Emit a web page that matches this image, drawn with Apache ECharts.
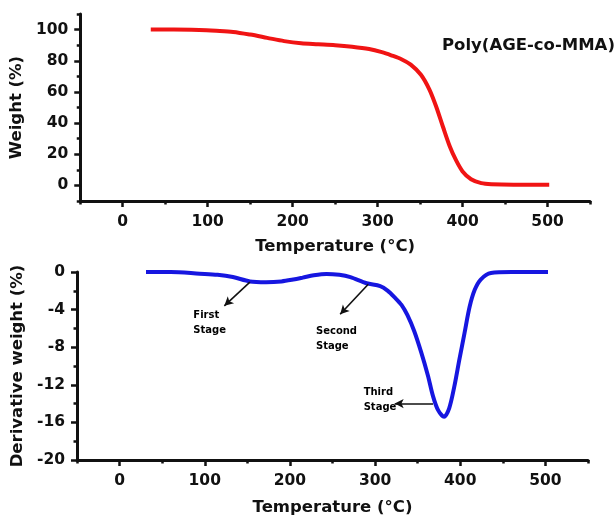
<!DOCTYPE html>
<html>
<head>
<meta charset="utf-8">
<title>Poly(AGE-co-MMA) TGA / DTG</title>
<script src="https://cdn.jsdelivr.net/npm/echarts@6/dist/echarts.min.js"></script>
<style>
  html, body { margin: 0; padding: 0; background: #fff; }
  #chart { width: 616px; height: 517px; }
</style>
</head>
<body>
<div id="chart"></div>
<script>
// Thermogravimetric curve (weight %) vs temperature (°C)
var tgaTemp   = [33, 60, 90, 110, 130, 150, 170, 190, 210, 230, 250, 270, 290, 305, 316, 328, 339, 351, 361, 369, 377, 385, 392, 400, 410, 422, 434, 460, 502];
var tgaWeight = [100, 100, 99.7, 99.2, 98.5, 96.8, 94.7, 92.6, 91.2, 90.6, 90, 89, 87.5, 85.5, 83.5, 81, 77.5, 71, 61.5, 50.5, 37.5, 25, 16.5, 9, 4, 1.5, 0.8, 0.5, 0.5];

// Derivative weight curve (%) vs temperature (°C)
var dtgTemp  = [31, 60, 94, 115, 133, 153, 172, 190, 204, 215, 228, 243, 258, 271, 290, 306, 315, 323, 331, 338, 346, 354, 362, 368, 374, 381, 387, 393, 399, 405, 411, 417, 424, 436, 460, 503];
var dtgValue = [0, 0, -0.18, -0.3, -0.54, -1.0, -1.08, -1.0, -0.8, -0.6, -0.35, -0.2, -0.3, -0.55, -1.2, -1.5, -2.0, -2.7, -3.5, -4.6, -6.3, -8.5, -11.0, -13.2, -14.7, -15.4, -14.5, -12.2, -9.3, -6.5, -3.7, -1.9, -0.8, -0.1, 0, 0];

// Tick values
var tempMajor   = [0, 100, 200, 300, 400, 500];
var tempMinor   = [-50, 50, 150, 250, 350, 450, 550];
var weightMajor = [0, 20, 40, 60, 80, 100];
var weightMinor = [-10, 10, 30, 50, 70, 90, 110];
var dtgMajor    = [-20, -16, -12, -8, -4, 0];
var dtgMinor    = [-18, -14, -10, -6, -2];

// Stage annotations on the derivative curve (data coordinates)
var stageNames  = ['First\nStage', 'Second\nStage', 'Third\nStage'];
var stageTextAt = [[86, -5.4], [230, -7.1], [286, -13.6]];
var arrowFrom   = [[153, -1.08], [292, -1.3], [368, -14.0]];
var arrowTo     = [[123, -3.6], [259, -4.5], [323, -14.0]];

var FONT = 'DejaVu Sans';
var INK = '#111';

function zip(a, b) { return a.map(function (v, i) { return [v, b[i]]; }); }

// Each dimension uses a base axis (line, long ticks, labels) and an overlay axis (short ticks)
function axisPair(dim, grid, min, max, major, minor, name, nameGap) {
  var base = {
    type: 'value', gridIndex: grid, min: min, max: max,
    position: dim === 'x' ? 'bottom' : 'left',
    name: name, nameLocation: 'middle', nameGap: nameGap,
    nameTextStyle: { fontFamily: FONT, fontWeight: 'bold', fontSize: 16.5, color: INK },
    axisLine: { show: true, onZero: false, lineStyle: { color: INK, width: 3, cap: 'round' } },
    axisTick: { show: true, customValues: major, length: 6, lineStyle: { color: INK, width: 2.5 } },
    axisLabel: { show: true, customValues: major, margin: dim === 'x' ? 13 : 12,
      fontFamily: FONT, fontWeight: 'bold', fontSize: 15.5, color: INK },
    splitLine: { show: false }
  };
  var overlay = {
    type: 'value', gridIndex: grid, min: min, max: max,
    position: dim === 'x' ? 'bottom' : 'left',
    axisLine: { show: false, onZero: false },
    axisTick: { show: true, customValues: minor, length: 3.5, lineStyle: { color: INK, width: 2.5 } },
    axisLabel: { show: false },
    splitLine: { show: false }
  };
  return [base, overlay];
}

var xAxes = axisPair('x', 0, -50, 550, tempMajor, tempMinor, 'Temperature (°C)', 37)
  .concat(axisPair('x', 1, -50, 550, tempMajor, tempMinor, 'Temperature (°C)', 39));
var yAxes = axisPair('y', 0, -10, 110, weightMajor, weightMinor, 'Weight (%)', 48)
  .concat(axisPair('y', 1, -20, 0, dtgMajor, dtgMinor, 'Derivative weight (%)', 44));

var option = {
  animation: false,
  backgroundColor: '#fff',
  title: {
    text: 'Poly(AGE-co-MMA)', left: 437, top: 32,
    textStyle: { fontFamily: FONT, fontWeight: 'bold', fontSize: 16.5, color: INK }
  },
  grid: [
    { left: 80, top: 14, width: 510, height: 187 },
    { left: 77, top: 272, width: 511, height: 188 }
  ],
  xAxis: xAxes,
  yAxis: yAxes,
  series: [
    {
      name: 'Weight', type: 'line', xAxisIndex: 0, yAxisIndex: 0,
      data: zip(tgaTemp, tgaWeight), showSymbol: false, smooth: 0.3,
      lineStyle: { color: '#f01414', width: 4 }, itemStyle: { color: '#f01414' }
    },
    {
      name: 'Derivative weight', type: 'line', xAxisIndex: 2, yAxisIndex: 2,
      data: zip(dtgTemp, dtgValue), showSymbol: false, smooth: 0.3,
      lineStyle: { color: '#1616e0', width: 4 }, itemStyle: { color: '#1616e0' },
      markLine: {
        silent: true, symbol: ['none', 'arrow'], symbolSize: [7, 9],
        lineStyle: { color: INK, width: 1.6, type: 'solid' },
        label: { show: false },
        emphasis: { disabled: true },
        data: arrowFrom.map(function (p, i) { return [{ coord: p }, { coord: arrowTo[i] }]; })
      }
    },
    {
      name: 'Stages', type: 'scatter', xAxisIndex: 2, yAxisIndex: 2,
      symbol: 'circle', symbolSize: 1, itemStyle: { color: 'rgba(0,0,0,0)' }, silent: true,
      data: stageNames.map(function (n, i) { return { name: n, value: stageTextAt[i] }; }),
      label: {
        show: true, position: 'right', distance: 0, formatter: '{b}', opacity: 1,
        fontFamily: FONT, fontWeight: 'bold', fontSize: 10, lineHeight: 15, color: '#000', align: 'left'
      }
    }
  ]
};

var chart = echarts.init(document.getElementById('chart'), null, { renderer: 'canvas' });
chart.setOption(option);
</script>
</body>
</html>
